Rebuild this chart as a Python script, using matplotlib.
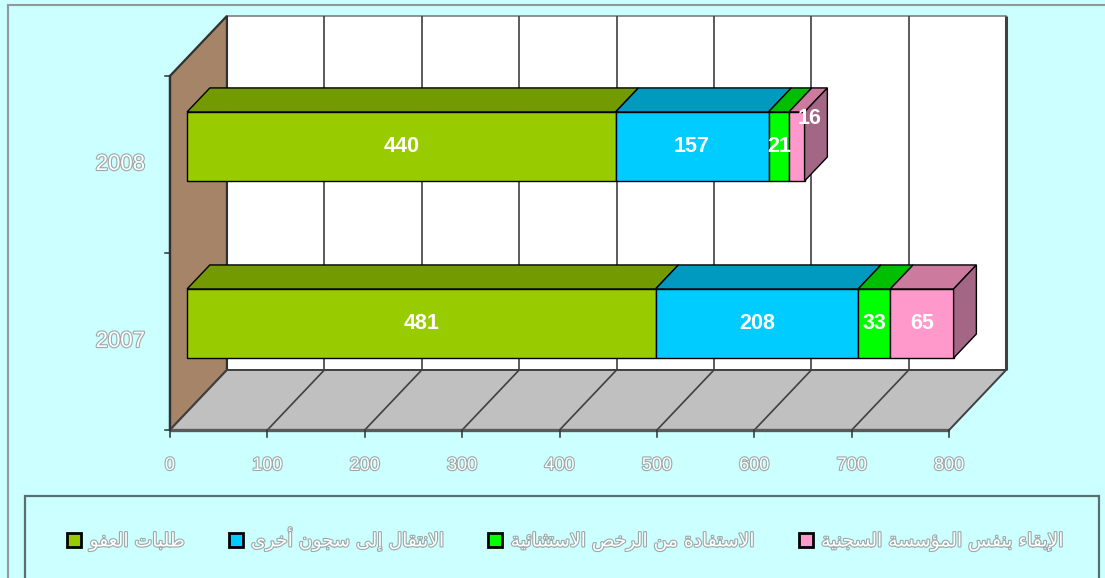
import matplotlib
matplotlib.use("Agg")
import matplotlib.pyplot as plt
import matplotlib.patheffects as pe
from matplotlib.patches import Polygon, Rectangle, Patch

# ---- data -------------------------------------------------------------
years = ["2007", "2008"]
series_names = [
    "طلبات العفو",
    "الانتقال إلى سجون أخرى",
    "الاستفادة من الرخص الاستثنائية",
    "الإبقاء بنفس المؤسسة السجنية",
]
values = [
    [481, 440],   # طلبات العفو
    [208, 157],   # الانتقال إلى سجون أخرى
    [33, 21],     # الاستفادة من الرخص الاستثنائية
    [65, 16],     # الإبقاء بنفس المؤسسة السجنية
]
x_ticks = [0, 100, 200, 300, 400, 500, 600, 700, 800]

# ---- style ------------------------------------------------------------
BG = "#CCFFFF"
front_colors = ["#99CC00", "#00CCFF", "#00FF00", "#FF99CC"]
top_colors = ["#739A00", "#0099C0", "#00BF00", "#CC7A9E"]
side_colors = ["#5E7D00", "#007FA0", "#009900", "#A36685"]
WALL = "#A68468"
FLOOR = "#C0C0C0"
DEPTH_DX = 58.5     # full depth, in value units
DEPTH_DY = 0.339    # full depth, in category units
BAR_T0, BAR_T1 = 0.30, 0.70
BAR_HALF = 0.195
OUTLINE = [pe.withStroke(linewidth=1.6, foreground="#9AA8A8")]


# ---- minimal Arabic shaping (no external reshaper available) ----------
_ORDER = [("ء", 1), ("آ", 2), ("أ", 2), ("ؤ", 2), ("إ", 2), ("ئ", 4), ("ا", 2),
          ("ب", 4), ("ة", 2), ("ت", 4), ("ث", 4), ("ج", 4), ("ح", 4), ("خ", 4),
          ("د", 2), ("ذ", 2), ("ر", 2), ("ز", 2), ("س", 4), ("ش", 4), ("ص", 4),
          ("ض", 4), ("ط", 4), ("ظ", 4), ("ع", 4), ("غ", 4), ("ف", 4), ("ق", 4),
          ("ك", 4), ("ل", 4), ("م", 4), ("ن", 4), ("ه", 4), ("و", 2), ("ى", 2),
          ("ي", 4)]
FORMS = {}
_code = 0xFE80
for _ch, _n in _ORDER:
    FORMS[_ch] = [chr(_code + i) for i in range(_n)]
    _code += _n
LAM_ALEF = {"آ": 0xFEF5, "أ": 0xFEF7, "إ": 0xFEF9, "ا": 0xFEFB}


def shape_arabic(text):
    units = []
    i = 0
    while i < len(text):
        c = text[i]
        if c == "ل" and i + 1 < len(text) and text[i + 1] in LAM_ALEF:
            units.append(("LA", text[i + 1]))
            i += 2
        else:
            units.append((c, None))
            i += 1

    def joins_next(u):
        return u[0] != "LA" and u[0] in FORMS and len(FORMS[u[0]]) == 4

    def joins_prev(u):
        return u[0] == "LA" or (u[0] in FORMS and len(FORMS[u[0]]) >= 2)

    out = []
    for k, u in enumerate(units):
        pj = k > 0 and joins_next(units[k - 1]) and joins_prev(u)
        nj = k + 1 < len(units) and joins_next(u) and joins_prev(units[k + 1])
        c, a = u
        if c == "LA":
            out.append(chr(LAM_ALEF[a] + (1 if pj else 0)))
        elif c in FORMS:
            f = FORMS[c]
            out.append(f[3] if pj and nj else f[2] if nj else f[1] if pj else f[0])
        else:
            out.append(c)
    return "".join(reversed(out))


def proj(v, u, t):
    """oblique projection: value, category position, depth fraction"""
    return (v + t * DEPTH_DX, u + t * DEPTH_DY)


def poly(ax, pts, fc, ec="black", lw=1.0, z=2):
    ax.add_patch(Polygon([proj(*p) for p in pts], closed=True, facecolor=fc,
                         edgecolor=ec, linewidth=lw, zorder=z, joinstyle="miter"))


def line(ax, p0, p1, color="#404040", lw=1.2, z=1.5):
    a, b = proj(*p0), proj(*p1)
    ax.plot([a[0], b[0]], [a[1], b[1]], color=color, linewidth=lw, zorder=z,
            solid_capstyle="butt")


plt.rcParams["font.family"] = ["Liberation Sans", "DejaVu Sans"]

fig = plt.figure(figsize=(11.05, 5.78), dpi=100)
fig.patch.set_facecolor(BG)
ax = fig.add_axes([0, 0, 1, 1])
ax.set_axis_off()
ax.set_xlim(-174.5, 960.0)
ax.set_ylim(-0.836, 2.429)

vmax = x_ticks[-1]
n_cat = len(years)

# walls and floor
poly(ax, [(0, 0, 1), (vmax, 0, 1), (vmax, n_cat, 1), (0, n_cat, 1)], "white",
     ec="#7F7F7F", lw=1.2, z=1)
line(ax, (vmax, 0, 1), (vmax, n_cat, 1), color="#404040", lw=2.2, z=1.6)
for v in x_ticks[1:-1]:
    line(ax, (v, 0, 1), (v, n_cat, 1))
poly(ax, [(0, 0, 0), (0, 0, 1), (0, n_cat, 1), (0, n_cat, 0)], WALL,
     ec="#303030", lw=1.6, z=1.2)
poly(ax, [(0, 0, 0), (vmax, 0, 0), (vmax, 0, 1), (0, 0, 1)], FLOOR,
     ec="#404040", lw=1.4, z=1.2)
for v in x_ticks[1:-1]:
    line(ax, (v, 0, 0), (v, 0, 1), lw=1.2, z=1.3)
line(ax, (0, 0, 0), (vmax, 0, 0), color="#5A5A5A", lw=2.4, z=1.4)

# axis ticks
tick_dv = 5.5
tick_du = 0.042
for v in x_ticks:
    ax.plot([v, v], [0, -tick_du], color="#303030", linewidth=1.1, zorder=1.5)
    ax.text(v, -0.2, str(v), ha="center", va="center", fontsize=13,
            color="white", path_effects=OUTLINE,
            family=["Liberation Sans Narrow", "Liberation Sans", "DejaVu Sans"])
for u in range(n_cat + 1):
    ax.plot([-tick_dv, 0], [u, u], color="#303030", linewidth=1.1, zorder=1.5)
ax.plot([0, 0], [0, n_cat], color="#303030", linewidth=1.6, zorder=1.5)
for i, yr in enumerate(years):
    ax.text(-25.5, i + 0.5, yr, ha="right", va="center", fontsize=16,
            color="white", path_effects=OUTLINE)

# stacked 3d bars
for i in range(n_cat):
    u0, u1 = i + 0.5 - BAR_HALF, i + 0.5 + BAR_HALF
    left = 0
    for s in range(len(values)):
        val = values[s][i]
        right = left + val
        poly(ax, [(left, u0, BAR_T0), (right, u0, BAR_T0), (right, u1, BAR_T0),
                  (left, u1, BAR_T0)], front_colors[s], z=3)
        poly(ax, [(left, u1, BAR_T0), (right, u1, BAR_T0), (right, u1, BAR_T1),
                  (left, u1, BAR_T1)], top_colors[s], z=3)
        if s == len(values) - 1:
            poly(ax, [(right, u0, BAR_T0), (right, u0, BAR_T1), (right, u1, BAR_T1),
                      (right, u1, BAR_T0)], side_colors[s], z=3)
        cx, cy = proj((left + right) / 2, i + 0.5, BAR_T0)
        if val < 20:
            cx, cy = cx + 13, cy + 0.16
        ax.text(cx, cy, str(val), ha="center", va="center", fontsize=15.5,
                fontweight="bold", color="white", zorder=5)
        left = right

# outer frame and legend box
fig.add_artist(Rectangle((8 / 1105, -0.1), 1.2, 1.1 - 5 / 578, fill=False,
                         edgecolor="#8C9A9A", linewidth=1.5,
                         transform=fig.transFigure))
fig.add_artist(Rectangle((25 / 1105, -0.1), 1074 / 1105, 0.1 + 82 / 578,
                         fill=False, edgecolor="#5A6E6E", linewidth=1.6,
                         transform=fig.transFigure))

handles = [Patch(facecolor=c, edgecolor="black", linewidth=2.0) for c in front_colors]
leg = fig.legend(handles, [shape_arabic(n) for n in series_names], ncol=4,
                 loc="center", bbox_to_anchor=(566 / 1105, 1 - 539 / 578),
                 frameon=False, fontsize=13.5, handlelength=0.75, handleheight=0.75,
                 handletextpad=0.45, columnspacing=2.3)
for t in leg.get_texts():
    t.set_color("white")
    t.set_path_effects(OUTLINE)
    t.set_family(["DejaVu Sans"])

fig.savefig("out.png", dpi=100, facecolor=BG)
